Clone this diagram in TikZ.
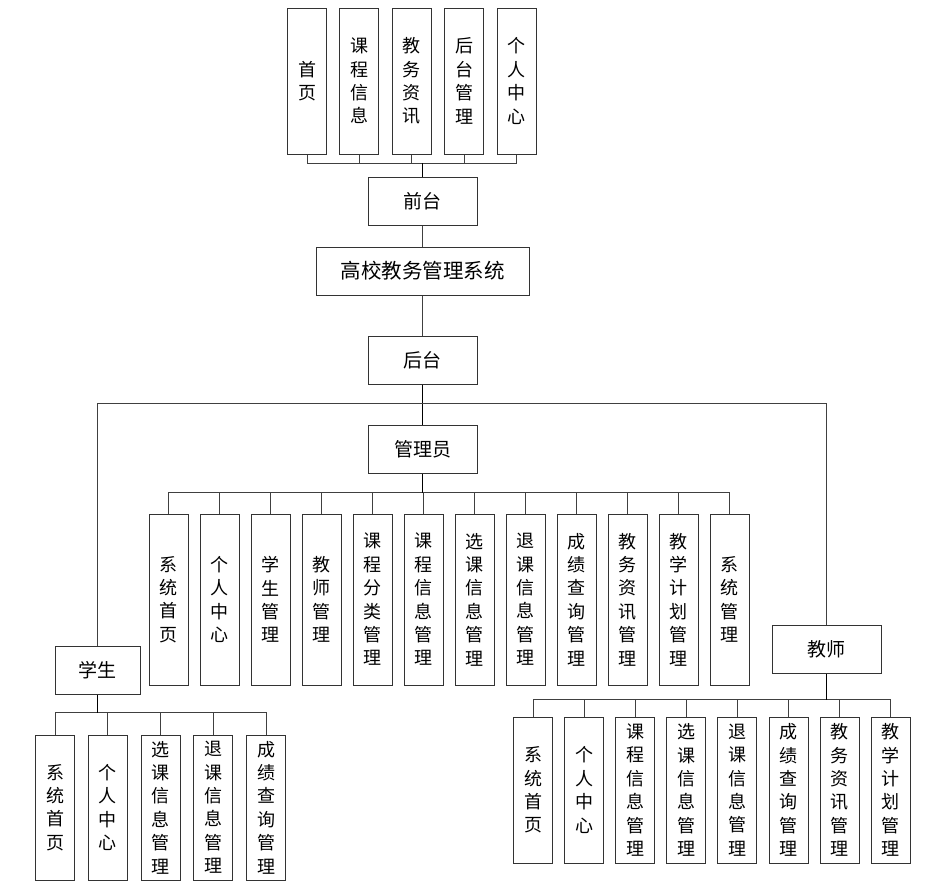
\documentclass[tikz,border=0pt]{standalone}
\usepackage{fontspec}
\setmainfont{Noto Sans CJK SC}
\begin{document}
\begin{tikzpicture}[x=1pt,y=-1pt,
  box/.style={draw=black!80,line width=1pt,inner sep=0pt,align=center,font=\fontsize{19}{22}\selectfont},
  vbox/.style={draw=black!80,line width=1pt,inner sep=0pt,minimum width=39pt,align=center,font=\fontsize{18}{23.4}\selectfont},
  hbox/.style={box,minimum width=109pt,minimum height=48pt},
  link/.style={draw=black!75,line width=0.9pt},
  trunk/.style={draw=black,line width=1.4pt}]
\useasboundingbox (0,0) rectangle (938,884);
% top layer
\node[hbox] (front) at (422.5,201.5) {前台};
\node[box,minimum width=213pt,minimum height=48pt,font=\fontsize{20.5}{24}\selectfont] (sys) at (422.5,271) {高校教务管理系统};
\node[hbox] (back) at (422.5,360) {后台};
\node[hbox] (admin) at (422.5,449) {管理员};
\node[box,minimum width=85pt,minimum height=48pt] (stu) at (97.5,670) {学生};
\node[hbox] (tea) at (826.5,649) {教师};
% front children
\foreach \t [count=\i from 0] in {首\\页,课\\程\\信\\息,教\\务\\资\\讯,后\\台\\管\\理,个\\人\\中\\心}{
  \node[vbox,minimum height=146pt] (f\i) at (307+52.4*\i,81) {\t};
  \draw[link] (f\i.south) |- (front.north |- 0,163);
}
\draw[trunk] (front.north) -- ++(0,-14);
\draw[link] (front.south) -- (sys.north);
\draw[link] (sys.south) -- (back.south |- back.north);
\draw[trunk] (back.south) -- (admin.north);
\draw[link] (back.south |- 0,403) -| (stu.north);
\draw[link] (back.south |- 0,403) -| (tea.north);
% admin children
\foreach \t [count=\i from 0] in {系\\统\\首\\页,个\\人\\中\\心,学\\生\\管\\理,教\\师\\管\\理,课\\程\\分\\类\\管\\理,课\\程\\信\\息\\管\\理,选\\课\\信\\息\\管\\理,退\\课\\信\\息\\管\\理,成\\绩\\查\\询\\管\\理,教\\务\\资\\讯\\管\\理,教\\学\\计\\划\\管\\理,系\\统\\管\\理}{
  \node[vbox,minimum height=171pt] (a\i) at (168.5+51*\i,599.5) {\t};
  \draw[link] (a\i.north) |- (admin.south |- 0,492);
}
\draw[trunk] (admin.south) -- ++(0,19);
% student children
\foreach \t [count=\i from 0] in {系\\统\\首\\页,个\\人\\中\\心,选\\课\\信\\息\\管\\理,退\\课\\信\\息\\管\\理,成\\绩\\查\\询\\管\\理}{
  \node[vbox,minimum height=145pt] (s\i) at (55.2+52.7*\i,807.5) {\t};
  \draw[link] (s\i.north) |- (stu.south |- 0,712);
}
\draw[trunk] (stu.south) -- ++(0,18);
% teacher children
\foreach \t [count=\i from 0] in {系\\统\\首\\页,个\\人\\中\\心,课\\程\\信\\息\\管\\理,选\\课\\信\\息\\管\\理,退\\课\\信\\息\\管\\理,成\\绩\\查\\询\\管\\理,教\\务\\资\\讯\\管\\理,教\\学\\计\\划\\管\\理}{
  \node[vbox,minimum height=146pt] (t\i) at (533+51.1*\i,790) {\t};
  \draw[link] (t\i.north) |- (tea.south |- 0,699);
}
\draw[trunk] (tea.south) -- ++(0,26);
\end{tikzpicture}
\end{document}
